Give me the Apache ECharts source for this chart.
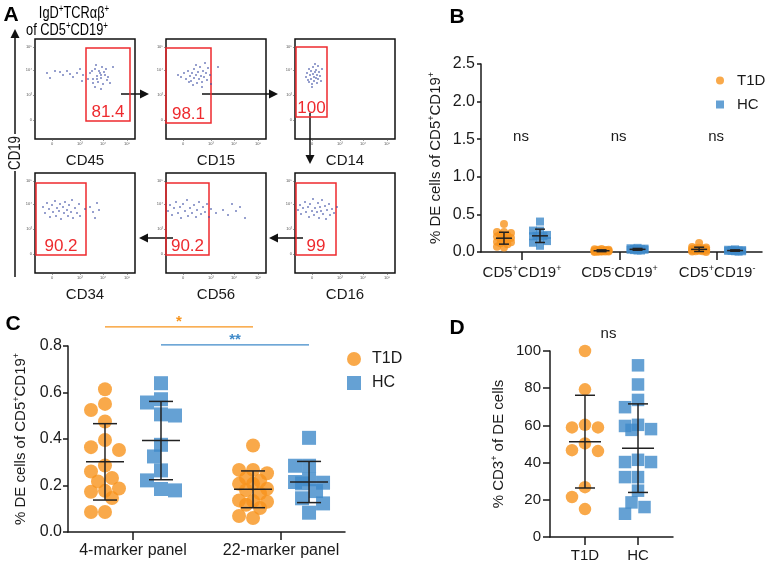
<!DOCTYPE html>
<html><head><meta charset="utf-8">
<script src="https://cdn.jsdelivr.net/npm/echarts@6/dist/echarts.min.js"></script>
<style>html,body{margin:0;padding:0;background:#fff}#c{width:772px;height:567px}</style>
</head><body><div id="c"></div>
<script>
// ================= DATA =================
const groups = ['T1D', 'HC'];
const catsB = ['CD5⁺CD19⁺', 'CD5⁻CD19⁺', 'CD5⁺CD19⁻'];
const catsC = ['4-marker panel', '22-marker panel'];
const catsD = ['T1D', 'HC'];

// Panel C (% DE cells of CD5+CD19+)
const c4T1D  = [0.614,0.551,0.525,0.475,0.396,0.365,0.353,0.286,0.260,0.232,0.217,0.187,0.177,0.173,0.146,0.086,0.086];
const c4HC   = [0.640,0.571,0.557,0.506,0.501,0.375,0.325,0.265,0.222,0.185,0.179];
const c22T1D = [0.372,0.267,0.267,0.253,0.232,0.220,0.207,0.207,0.186,0.180,0.166,0.136,0.133,0.130,0.117,0.103,0.069,0.060];
const c22HC  = [0.405,0.285,0.285,0.227,0.215,0.212,0.209,0.176,0.145,0.123,0.083];

// Panel B
const bPosPosT1D = c22T1D;
const bPosPosHC  = c22HC;
const bNegPosT1D = [0.040,0.035,0.030,0.030,0.025,0.020,0.020,0.020,0.015,0.015,0.010,0.010,0.010,0.005,0.005,0.005,0.002,0.000];
const bNegPosHC  = [0.055,0.050,0.045,0.040,0.040,0.035,0.030,0.030,0.025,0.020,0.020];
const bPosNegT1D = [0.120,0.065,0.060,0.055,0.050,0.045,0.040,0.035,0.030,0.030,0.025,0.020,0.020,0.015,0.010,0.010,0.005,0.000];
const bPosNegHC  = [0.035,0.030,0.025,0.025,0.020,0.020,0.015,0.015,0.010,0.010,0.005];

// Panel D (% CD3+ of DE cells)
const dT1D = [100,79.4,60.3,58.9,58.9,50.3,46.7,46.2,26.8,21.5,15.0];
const dHC  = [92.3,82.0,73.7,69.8,60.3,59.7,58.0,57.6,41.5,40.3,40.3,32.2,32.2,24.9,18.6,16.1,12.5];

// Panel A (flow plots, 0-100 display scale)
const flowMarkers = ['CD45','CD15','CD14','CD34','CD56','CD16'];
const flowGatePct = ['81.4','98.1','100','90.2','90.2','99'];
const flowGates = [[51,18,95,91],[0,16,45,91],[1,22,32,92],[1,18,51,90],[0,18,43,90],[1,18,41,90]];
const flowTickPos = [17,45,68,92];
const flowTickPosY = [19,44,69,92];
const flowTickLabels = ['0','10³','10⁴','10⁵'];
const evCD45 = [[12,66],[15,61],[20,68],[25,67],[28,64],[32,68],[35,65],[38,62],[42,66],[45,70],[48,64],[47,58],[55,66],[58,60],[60,70],[62,63],[63,57],[65,66],[66,61],[67,72],[68,55],[70,64],[72,59],[60,52],[57,68],[64,68],[69,67],[71,70],[73,62],[58,56],[62,60],[66,64],[75,56],[78,72],[53,60],[61,74],[66,50]];
const evCD15 = [[12,64],[15,62],[18,66],[20,60],[22,68],[24,63],[25,58],[26,66],[28,70],[28,61],[30,64],[31,56],[32,67],[33,60],[34,72],[35,63],[36,57],[37,68],[38,62],[40,66],[41,59],[42,71],[44,64],[45,55],[27,54],[30,74],[23,57],[36,52],[52,72],[39,76]];
const evCD14 = [[11,62],[12,66],[13,59],[14,70],[15,64],[16,60],[16,68],[17,55],[18,65],[18,72],[19,62],[19,58],[20,67],[20,75],[21,61],[21,69],[22,56],[22,64],[23,60],[24,67],[25,63],[26,58],[27,70],[17,52],[14,57],[23,73]];
const evCD34 = [[8,66],[10,60],[12,70],[14,64],[15,56],[17,68],[18,61],[20,72],[21,57],[22,65],[24,62],[25,69],[26,54],[28,66],[29,60],[30,71],[32,63],[33,57],[34,68],[36,61],[37,73],[38,55],[40,65],[42,60],[44,69],[45,57],[50,64],[55,66],[58,61],[62,70],[64,63],[60,55]];
const evCD56 = [[2,62],[4,68],[6,58],[8,65],[10,71],[12,60],[14,66],[15,55],[17,69],[19,62],[21,73],[22,57],[24,65],[26,60],[28,68],[30,56],[31,63],[33,71],[35,59],[37,66],[39,61],[41,69],[43,56],[45,64],[57,63],[62,58],[66,69],[70,62],[74,66],[79,55],[50,60]];
const evCD16 = [[3,63],[5,68],[6,59],[8,65],[10,71],[11,61],[13,66],[14,56],[15,69],[17,62],[18,74],[19,58],[20,65],[22,61],[23,70],[24,55],[25,66],[26,62],[27,73],[28,59],[30,67],[31,54],[32,63],[34,69],[35,58],[37,64],[39,60],[42,66]];
const flowEvents = [evCD45, evCD15, evCD14, evCD34, evCD56, evCD16];

// ================= STYLE / HELPERS =================
const FONT = '"Liberation Sans", Arial, Helvetica, sans-serif';
const ORANGE = '#F7941D', BLUE = '#3F8AC9', INK = '#1a1a1a', RED = '#EE2A2E';

function mean(a){ return a.reduce((s,v)=>s+v,0)/a.length; }
function sd(a){ const m=mean(a); return Math.sqrt(a.reduce((s,v)=>s+(v-m)*(v-m),0)/(a.length-1)); }
// bounded beeswarm layout (pixel offsets)
function swarm(vals, ppu, size, step, fac, kmax){
  const idx = vals.map((v,i)=>i).sort((a,b)=>vals[b]-vals[a]);
  const placed=[], off=new Array(vals.length).fill(0), thr=size*fac;
  for (const i of idx){
    const y = vals[i]*ppu; let best=0, bestD=-1;
    for (let n=0;n<=2*kmax;n++){
      const k = n===0?0:(n%2? -Math.ceil(n/2): Math.ceil(n/2));
      const x = k*step;
      let d = Infinity;
      for (const p of placed){ d = Math.min(d, Math.hypot(p.x-x, p.y-y)); }
      if (d >= thr){ best=x; bestD=d; break; }
      if (d > bestD + 0.01){ bestD=d; best=x; }
    }
    placed.push({x:best,y}); off[i]=best;
  }
  return off;
}
function richify(s){
  let out='', buf='';
  const flush=()=>{ if(buf){ out+='{n|'+buf+'}'; buf=''; } };
  for (const ch of s){
    if (ch==='⁺'){ flush(); out+='{s|+}'; }
    else if (ch==='⁻'){ flush(); out+='{s|-}'; }
    else buf+=ch;
  }
  flush(); return out;
}
function R(F){
  const sF = Math.round(F*0.62);
  return { n:{fontSize:F, fontFamily:FONT, color:INK, lineHeight:F+3},
           s:{fontSize:sF, fontFamily:FONT, color:INK, verticalAlign:'top', lineHeight:sF+1} };
}

// ================= LAYOUT =================
const flowBoxes = [[35,39],[166,39],[295,39],[35,173],[166,173],[295,173]];
const grids = flowBoxes.map(b=>({left:b[0], top:b[1], width:100, height:100, show:true, borderColor:'#111', borderWidth:1.5, backgroundColor:'transparent'}));
grids.push({left:481, top:64, width:281, height:188});   // B : 6
grids.push({left:68, top:346, width:277, height:186});   // C : 7
grids.push({left:550, top:351, width:123, height:186});  // D : 8

const xAxes = [], yAxes = [];
flowMarkers.forEach((m,i)=>{
  xAxes.push({gridIndex:i, type:'value', min:0, max:100, axisLine:{show:false}, splitLine:{show:false},
    axisTick:{show:true, customValues:flowTickPos, length:2, lineStyle:{color:'#555', width:0.6}},
    axisLabel:{customValues:flowTickPos, fontSize:4, margin:3, color:'#555', fontFamily:FONT,
      formatter:v=>flowTickLabels[flowTickPos.indexOf(v)] || ''},
    name:m, nameLocation:'middle', nameGap:14, nameTextStyle:{fontSize:15, color:INK, fontFamily:FONT, verticalAlign:'top'}});
  yAxes.push({gridIndex:i, type:'value', min:0, max:100, axisLine:{show:false}, splitLine:{show:false},
    axisTick:{show:true, customValues:flowTickPosY, length:2, lineStyle:{color:'#555', width:0.6}},
    axisLabel:{customValues:flowTickPosY, fontSize:4, margin:3, color:'#555', fontFamily:FONT,
      formatter:v=>flowTickLabels[flowTickPosY.indexOf(v)] || ''}});
});
const axLine = {show:true, lineStyle:{color:INK, width:1.5}};
// B
xAxes.push({gridIndex:6, type:'value', min:0.58, max:3.46, axisLine:axLine, splitLine:{show:false},
  axisTick:{show:true, customValues:[1,2,3], length:8, lineStyle:{color:INK, width:1.5}},
  axisLabel:{customValues:[1,2,3], margin:12, formatter:v=>richify(catsB[Math.round(v)-1]), rich:R(15)}});
yAxes.push({gridIndex:6, type:'value', min:0, max:2.5, interval:0.5, axisLine:axLine, splitLine:{show:false},
  axisTick:{show:true, length:4, lineStyle:{color:INK, width:1.5}},
  axisLabel:{fontSize:16, color:INK, fontFamily:FONT, margin:6, formatter:v=>v.toFixed(1)},
  name:richify('% DE cells of CD5⁺CD19⁺'), nameLocation:'middle', nameGap:36, nameRotate:90, nameTextStyle:{rich:R(15)}});
// C
xAxes.push({gridIndex:7, type:'value', min:0.561, max:2.432, axisLine:axLine, splitLine:{show:false},
  axisTick:{show:true, customValues:[1,2], length:8, lineStyle:{color:INK, width:1.5}},
  axisLabel:{customValues:[1,2], margin:11, fontSize:16, color:INK, fontFamily:FONT, formatter:v=>catsC[Math.round(v)-1]}});
yAxes.push({gridIndex:7, type:'value', min:0, max:0.8, interval:0.2, axisLine:axLine, splitLine:{show:false},
  axisTick:{show:true, length:5, lineStyle:{color:INK, width:1.5}},
  axisLabel:{fontSize:16, color:INK, fontFamily:FONT, margin:6, formatter:v=>v.toFixed(1)},
  name:richify('% DE cells of CD5⁺CD19⁺'), nameLocation:'middle', nameGap:38, nameRotate:90, nameTextStyle:{rich:R(15)}});
// D
xAxes.push({gridIndex:8, type:'value', min:0.34, max:2.66, axisLine:axLine, splitLine:{show:false},
  axisTick:{show:true, customValues:[1,2], length:8, lineStyle:{color:INK, width:1.5}},
  axisLabel:{customValues:[1,2], margin:11, fontSize:15, color:INK, fontFamily:FONT, formatter:v=>catsD[Math.round(v)-1]}});
yAxes.push({gridIndex:8, type:'value', min:0, max:100, interval:20, axisLine:axLine, splitLine:{show:false},
  axisTick:{show:true, length:7, lineStyle:{color:INK, width:1.5}},
  axisLabel:{fontSize:15, color:INK, fontFamily:FONT, margin:9},
  name:richify('% CD3⁺ of DE cells'), nameLocation:'middle', nameGap:42, nameRotate:90, nameTextStyle:{rich:R(15)}});

// ================= SERIES =================
const series = [];
flowEvents.forEach((ev,i)=>{
  const g = flowGates[i];
  series.push({type:'scatter', name:'events'+i, xAxisIndex:i, yAxisIndex:i, symbolSize:2, silent:true,
    itemStyle:{color:'#3B4BA3', opacity:0.7}, data:ev,
    markArea:{silent:true, itemStyle:{color:'rgba(0,0,0,0)', borderColor:RED, borderWidth:1.5},
      label:{show:true, position:'insideBottom', distance:1, color:RED, fontSize:17, fontFamily:FONT},
      data:[[{xAxis:g[0], yAxis:g[1], name:flowGatePct[i]},{xAxis:g[2], yAxis:g[3]}]]}});
});

function errRender(off, halfMean, halfCap){
  return function(params, api){
    const x=api.value(0), m=api.value(1), s=api.value(2);
    const pm=api.coord([x,m]), pt=api.coord([x,m+s]), pb=api.coord([x,m-s]);
    const cx=pm[0]+off, st={stroke:'#222', lineWidth:1.5};
    return {type:'group', children:[
      {type:'line', shape:{x1:cx-halfMean,y1:pm[1],x2:cx+halfMean,y2:pm[1]}, style:st},
      {type:'line', shape:{x1:cx,y1:pt[1],x2:cx,y2:pb[1]}, style:st},
      {type:'line', shape:{x1:cx-halfCap,y1:pt[1],x2:cx+halfCap,y2:pt[1]}, style:st},
      {type:'line', shape:{x1:cx-halfCap,y1:pb[1],x2:cx+halfCap,y2:pb[1]}, style:st}]};
  };
}
function addGroup(ax, cat, vals, grp, cfg){
  const jit = swarm(vals, cfg.ppu, cfg.size, cfg.step, cfg.fac, cfg.kmax);
  const off = cfg.off*(grp==='T1D'?-1:1);
  series.push({type:'scatter', name:grp, xAxisIndex:ax, yAxisIndex:ax, silent:true, clip:false, z:2,
    symbol: grp==='T1D'?'circle':'rect', symbolSize:cfg.size,
    itemStyle:{color: grp==='T1D'?ORANGE:BLUE},
    data: vals.map((v,i)=>({value:[cat, v], symbolOffset:[off+jit[i],0]}))});
  series.push({type:'custom', name:grp+'-err', xAxisIndex:ax, yAxisIndex:ax, silent:true, z:5,
    renderItem: errRender(off, cfg.hm, cfg.hc), encode:{x:0,y:1},
    data:[[cat, mean(vals), sd(vals)]]});
}
const cfgB = {ppu:188/2.5, size:8, step:3.5, fac:0.9, kmax:2, off:18, hm:8, hc:5};
const cfgC = {ppu:186/0.8, size:14, step:7, fac:0.95, kmax:2, off:28, hm:19, hc:12};
const cfgD = {ppu:186/100, size:12.5, step:6.5, fac:0.95, kmax:2, off:0, hm:16, hc:10};
[[bPosPosT1D,bPosPosHC],[bNegPosT1D,bNegPosHC],[bPosNegT1D,bPosNegHC]].forEach((pair,k)=>{
  addGroup(6, k+1, pair[0], 'T1D', cfgB);
  addGroup(6, k+1, pair[1], 'HC', cfgB);
});
addGroup(7, 1, c4T1D, 'T1D', cfgC); addGroup(7, 1, c4HC, 'HC', cfgC);
addGroup(7, 2, c22T1D, 'T1D', cfgC); addGroup(7, 2, c22HC, 'HC', cfgC);
addGroup(8, 1, dT1D, 'T1D', cfgD); addGroup(8, 2, dHC, 'HC', cfgD);

const legendData = [{name:'T1D', icon:'circle'},{name:'HC', icon:'rect'}];
const option = {
  animation:false,
  textStyle:{fontFamily:FONT},
  grid:grids, xAxis:xAxes, yAxis:yAxes, series:series,
  legend:[
    {data:legendData, orient:'vertical', left:711, top:68, itemWidth:8, itemHeight:8, itemGap:9, selectedMode:false,
     textStyle:{fontSize:15, color:INK, fontFamily:FONT, padding:[0,0,0,8]}},
    {data:legendData, orient:'vertical', left:342, top:346, itemWidth:14, itemHeight:14, itemGap:8, selectedMode:false,
     textStyle:{fontSize:16, color:INK, fontFamily:FONT, padding:[0,0,0,6]}}
  ]
};
const chart = echarts.init(document.getElementById('c'), null, {renderer:'canvas'});
chart.setOption(option);

// ================= ANNOTATIONS =================
const G = [];
function txt(x,y,text,opt,el){ G.push(Object.assign({type:'text', x, y, silent:true, style:Object.assign({text, fill:INK, font:'15px '+FONT, align:'center', verticalAlign:'middle'}, opt||{})}, el||{})); }
function seg(x1,y1,x2,y2,color,w){ G.push({type:'line', silent:true, shape:{x1,y1,x2,y2}, style:{stroke:color||INK, lineWidth:w||1.5}}); }
function arrow(x1,y1,x2,y2){
  const L=Math.hypot(x2-x1,y2-y1), ux=(x2-x1)/L, uy=(y2-y1)/L, hl=9, hw=4.5;
  const bx=x2-ux*hl, by=y2-uy*hl;
  seg(x1,y1,bx,by,'#111',1.5);
  G.push({type:'polygon', silent:true, shape:{points:[[x2,y2],[bx-uy*hw,by+ux*hw],[bx+uy*hw,by-ux*hw]]}, style:{fill:'#111'}});
}
// panel letters
txt(11,15,'A',{font:'bold 21px '+FONT, fill:'#000'});
txt(457,17,'B',{font:'bold 21px '+FONT, fill:'#000'});
txt(13,324,'C',{font:'bold 21px '+FONT, fill:'#000'});
txt(457,328,'D',{font:'bold 21px '+FONT, fill:'#000'});
// A title (condensed as in the figure)
G.push({type:'text', x:74, y:14, scaleX:0.8, silent:true, style:{text:richify('IgD⁺TCRαβ⁺'), rich:R(16), align:'center', verticalAlign:'middle'}});
G.push({type:'text', x:67, y:31, scaleX:0.8, silent:true, style:{text:richify('of CD5⁺CD19⁺'), rich:R(16), align:'center', verticalAlign:'middle'}});
// CD19 shared axis
seg(15,277,15,171,'#111',1.5);
arrow(15,134,15,29);
G.push({type:'text', x:15, y:153, rotation:Math.PI/2, scaleX:0.78, silent:true, style:{text:'CD19', fill:INK, font:'17px '+FONT, align:'center', verticalAlign:'middle'}});
// gating arrows
arrow(121,94,149,94);
arrow(202,94,278,94);
arrow(310,113,310,164);
arrow(303,238,269,238);
arrow(173,238,139,238);
// B ns
[1,2,3].forEach(k=>{ const p=chart.convertToPixel({gridIndex:6},[k,1.53]); txt(p[0]-1,p[1],'ns'); });
// D ns
{ const p=chart.convertToPixel({gridIndex:8},[1.5,109]); txt(p[0]-3,p[1],'ns'); }
// C significance
{
  const a1=chart.convertToPixel({gridIndex:7},[1,0.882]), a2=chart.convertToPixel({gridIndex:7},[2,0.882]);
  seg(a1[0]-cfgC.off, a1[1], a2[0]-cfgC.off, a2[1], ORANGE, 1.3);
  txt((a1[0]+a2[0])/2-cfgC.off, a1[1]-5, '*', {fill:ORANGE, font:'bold 15px '+FONT});
  const b1=chart.convertToPixel({gridIndex:7},[1,0.805]), b2=chart.convertToPixel({gridIndex:7},[2,0.805]);
  seg(b1[0]+cfgC.off, b1[1], b2[0]+cfgC.off, b2[1], BLUE, 1.3);
  txt((b1[0]+b2[0])/2+cfgC.off, b1[1]-5, '**', {fill:BLUE, font:'bold 15px '+FONT});
}
chart.setOption({graphic:G});
</script></body></html>
